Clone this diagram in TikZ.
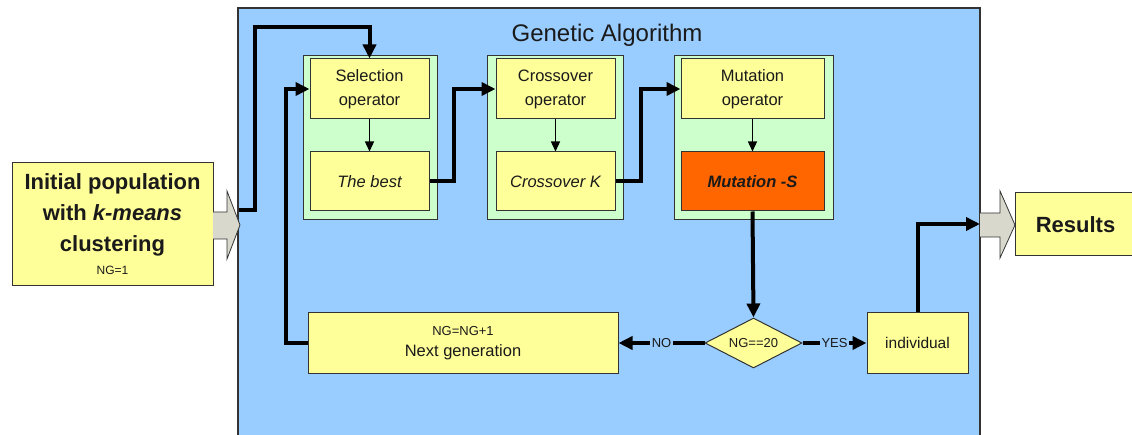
\documentclass[tikz,border=0pt]{standalone}
\usepackage{fontspec}
\setmainfont{Liberation Sans}
\usetikzlibrary{arrows.meta,shapes.geometric}
\definecolor{panelblue}{HTML}{99CCFF}
\definecolor{groupgreen}{HTML}{CCFFCC}
\definecolor{boxyellow}{HTML}{FFFF99}
\definecolor{mutorange}{HTML}{FF6600}
\definecolor{blockgray}{HTML}{D8D8CC}
\definecolor{edge}{HTML}{333333}
\definecolor{ink}{HTML}{1A1A1A}
\tikzset{
  group/.style={draw=edge, fill=groupgreen, line width=1pt, inner sep=0pt},
  opbox/.style={draw=edge, fill=boxyellow, line width=1pt, inner sep=0pt,
    align=center, text=ink, font=\fontsize{16.5}{24}\selectfont},
  flow/.style={line width=4pt, draw=black, -{Triangle[length=14pt,width=13pt]}},
  thinflow/.style={line width=1.3pt, draw=black, -{Triangle[length=10pt,width=9pt]}},
  blockarrow/.style={draw=edge, fill=blockgray, line width=0.8pt},
  edgelabel/.style={fill=panelblue, inner sep=1.5pt, text=ink,
    font=\fontsize{13}{15}\selectfont},
}
\begin{document}
\begin{tikzpicture}[x=1pt, y=-1pt]
\useasboundingbox (0,0) rectangle (1132,435);

% container panel (open at the bottom)
\fill[panelblue] (238,440) rectangle (980,8);
\draw[edge, line width=1.2pt] (238,440) -- (238,8) -- (980,8) -- (980,440);
\node[text=ink, font=\fontsize{24}{28}\selectfont] (title) at (607,35) {Genetic Algorithm};

% input and output boxes
\node[opbox, minimum width=201pt, minimum height=123pt,
      font=\fontsize{22}{31}\selectfont\bfseries] (init) at (112.5,224.5)
  {Initial population\\ with \textit{k-means}\\ clustering\\[-8pt]
   {\fontsize{12}{13}\selectfont\mdseries NG=1}};
\node[opbox, minimum width=121pt, minimum height=63pt,
      font=\fontsize{22}{26}\selectfont\bfseries] (res) at (1075.5,224.5) {Results};

% block arrows into and out of the panel
\draw[blockarrow] (213,212) -- (227,212) -- (227,191) -- (240,225) -- (227,259)
  -- (227,239) -- (213,239);
\draw[blockarrow] (980,213) -- (1000,213) -- (1000,191) -- (1015,225) -- (1000,258)
  -- (1000,237) -- (980,237);

% operator groups
\node[group, minimum width=134pt, minimum height=164pt] (g1) at (370,138) {};
\node[group, minimum width=136pt, minimum height=164pt] (g2) at (555,138) {};
\node[group, minimum width=159pt, minimum height=164pt] (g3) at (753.5,138) {};

\node[opbox, minimum width=119pt, minimum height=60pt] (sel) at (369.5,89) {Selection\\operator};
\node[opbox, minimum width=119pt, minimum height=59pt] (best) at (369.5,181.5) {\itshape The best};
\node[opbox, minimum width=119pt, minimum height=60pt] (cop) at (555.5,89) {Crossover\\operator};
\node[opbox, minimum width=119pt, minimum height=59pt] (ck) at (555.5,181.5) {\itshape Crossover K};
\node[opbox, minimum width=143pt, minimum height=60pt] (mop) at (752.5,89) {Mutation\\operator};
\node[opbox, fill=mutorange, minimum width=143pt, minimum height=59pt] (mut) at (752.5,181.5)
  {\bfseries\itshape Mutation -S};

% lower row
\node[opbox, minimum width=310pt, minimum height=60pt] (next) at (463,343)
  {{\fontsize{13}{14}\selectfont NG=NG+1}\\[-3pt] Next generation};
\node[draw=edge, fill=boxyellow, line width=1pt, diamond, aspect=2, inner sep=0pt,
      minimum width=97pt, minimum height=50pt, text=ink,
      font=\fontsize{13}{15}\selectfont] (dec) at (753.5,343) {NG==20};
\node[opbox, minimum width=101pt, minimum height=60pt,
      font=\fontsize{15.5}{18}\selectfont] (ind) at (917.5,343) {individual};

% connector end points on the panel border
\coordinate (inA) at (239,210);
\coordinate (upA) at (255,27);
\coordinate (fb) at (286,89);
\coordinate (outR) at (980,224);

% main flow
\draw[flow] (inA) -| (upA) -| (sel.north);
\draw[flow] (best.east) -- ++(24,0) |- (cop.west);
\draw[flow] (ck.east) -- ++(25,0) |- (mop.west);
\draw[flow] (mut.south) -- (dec.north);
\draw[flow] (next.west) -| (fb) -- (sel.west);
\draw[flow] (ind.north) |- (outR);

% inner steps
\draw[thinflow] (sel.south) -- (best.north);
\draw[thinflow] (cop.south) -- (ck.north);
\draw[thinflow] (mop.south) -- (mut.north);

% decision branches
\draw[flow] (dec.west) -- node[edgelabel, pos=0.5] {NO} (next.east);
\draw[flow] (dec.east) -- node[edgelabel, pos=0.5] {YES} (ind.west);
\end{tikzpicture}
\end{document}
